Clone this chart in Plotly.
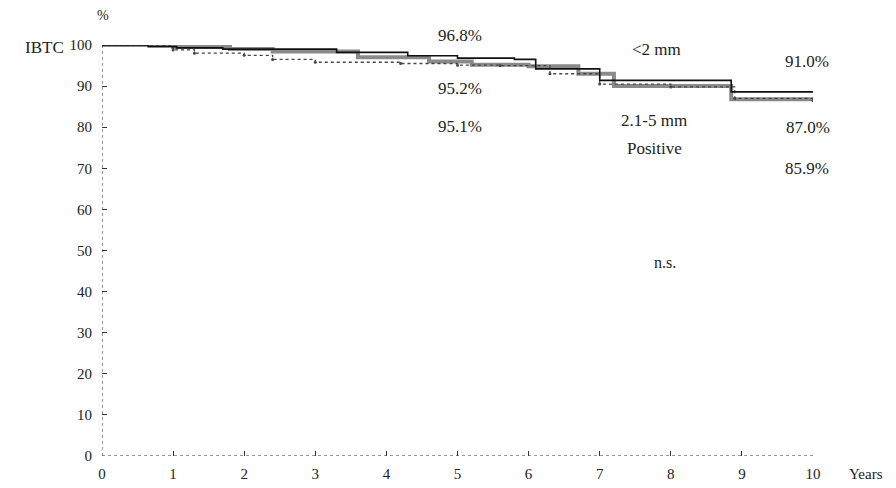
import plotly.graph_objects as go

# Kaplan-Meier style step curves (years, % IBTC-free)
t_lt2 = [0, 0.65, 1.05, 1.7, 3.3, 4.3, 5.0, 5.8, 6.1, 7.0, 8.85, 10.0]
s_lt2 = [100, 99.6, 99.3, 99.0, 98.2, 97.4, 96.8, 96.5, 94.2, 91.4, 88.6, 88.6]

t_mid = [0, 1.0, 1.8, 2.4, 3.6, 4.6, 5.2, 6.0, 6.7, 7.2, 8.85, 10.0]
s_mid = [100, 99.5, 99.0, 98.4, 97.0, 96.0, 95.2, 94.8, 93.0, 90.0, 86.8, 86.8]

t_pos = [0, 1.0, 1.3, 2.0, 2.4, 3.0, 4.2, 5.0, 5.6, 6.3, 7.0, 8.0, 8.9, 10.0]
s_pos = [100, 98.8, 98.0, 97.5, 96.5, 95.8, 95.5, 95.1, 95.0, 93.0, 90.5, 89.8, 87.0, 86.5]

x_ticks = list(range(0, 11))
y_ticks = list(range(0, 101, 10))

fig = go.Figure()
fig.add_trace(go.Scatter(x=t_mid, y=s_mid, mode="lines", line=dict(color="#8a8a8a", width=4, shape="hv"),
                         name="2.1-5 mm", showlegend=False))
fig.add_trace(go.Scatter(x=t_pos, y=s_pos, mode="lines+markers", line=dict(color="#444", width=1.3, shape="hv", dash="dot"),
                         marker=dict(size=3, color="#444"), name="Positive", showlegend=False))
fig.add_trace(go.Scatter(x=t_lt2, y=s_lt2, mode="lines", line=dict(color="#111", width=1.6, shape="hv"),
                         name="<2 mm", showlegend=False))

serif = "Liberation Serif, Times New Roman, serif"

fig.update_layout(
    width=896, height=488,
    margin=dict(l=102, r=83, t=45, b=32, autoexpand=False),
    paper_bgcolor="white", plot_bgcolor="white",
    font=dict(family=serif, size=14, color="#222"),
    xaxis=dict(range=[0, 10], tickvals=x_ticks, ticks="inside", ticklen=5, tickcolor="#333",
               showgrid=False, zeroline=False, showline=False, tickfont=dict(size=15),
               ticklabelstandoff=7),
    yaxis=dict(range=[0, 100], tickvals=y_ticks, ticks="inside", ticklen=5, tickcolor="#333",
               showgrid=False, zeroline=False, showline=False, tickfont=dict(size=15),
               ticklabelstandoff=9),
)

# dotted axis lines
fig.add_shape(type="line", xref="x", yref="y", x0=0, x1=10, y0=0, y1=0, line=dict(color="#333", width=1, dash="dot"))
fig.add_shape(type="line", xref="x", yref="y", x0=0, x1=0, y0=0, y1=100, line=dict(color="#333", width=1, dash="dot"))


# page-pixel positions converted to paper coords
def px(x, y):
    return (x - 102) / (813 - 102), (456 - y) / (456 - 45)


labels = [
    ("96.8%", 460, 35, 17), ("95.2%", 460, 88, 17), ("95.1%", 460, 127, 17),
    ("<2 mm", 656, 50, 17), ("2.1-5 mm", 654, 120, 17), ("Positive", 654, 148, 17),
    ("91.0%", 807, 62, 17), ("87.0%", 808, 128, 17), ("85.9%", 807, 168, 17),
    ("n.s.", 665, 262, 16),
    ("%", 103, 15, 14), ("IBTC", 45, 47, 17), ("Years", 866, 474, 15),
]
for txt, x, y, sz in labels:
    fx, fy = px(x, y)
    fig.add_annotation(x=fx, y=fy, xref="paper", yref="paper", text=txt, showarrow=False,
                       xanchor="center", yanchor="middle",
                       font=dict(family=serif, size=sz, color="#222"))

# remove the default 8px body margin so the 896x488 figure fills the window exactly
fig.write_html("out.html", config={"displayModeBar": False},
               post_script="document.body.style.margin='0';document.body.style.overflow='hidden';")
